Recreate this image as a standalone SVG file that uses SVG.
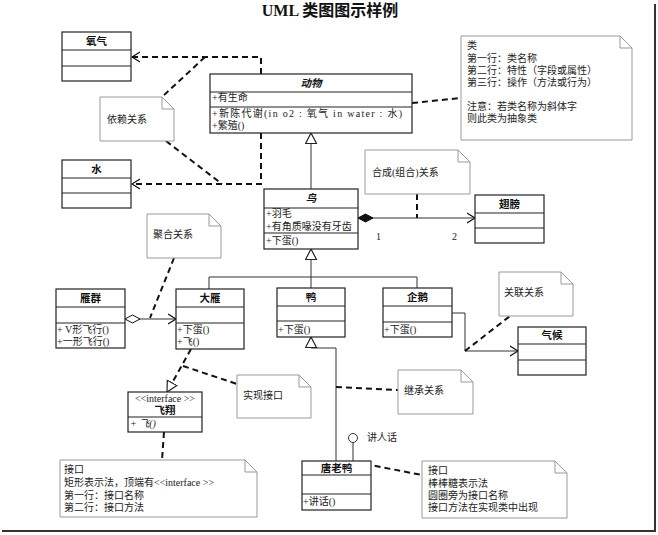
<svg xmlns="http://www.w3.org/2000/svg" width="658" height="535" viewBox="0 0 658 535">
<style>
.box{fill:#fff;stroke:#222;stroke-width:1.2}
.div{stroke:#222;stroke-width:1.2}
.note{fill:#fff;stroke:#999;stroke-width:1}
.fold{fill:none;stroke:#999;stroke-width:1}
.t{font-family:"Liberation Serif","Noto Sans CJK SC",serif;font-size:10px;fill:#222}
.nm{font-family:"Liberation Serif","Noto Sans CJK SC",serif;font-size:10.5px;font-weight:bold;fill:#111;text-anchor:middle}
.it{font-style:italic}
.dash{fill:none;stroke:#111;stroke-width:2;stroke-dasharray:6,4}
.line{fill:none;stroke:#333;stroke-width:1}
</style>
<defs>
<marker id="open" markerWidth="10" markerHeight="12" refX="8" refY="5" orient="auto" markerUnits="userSpaceOnUse" viewBox="0 0 10 10">
<path d="M0,0 L8,5 L0,10" fill="none" stroke="#111" stroke-width="1.2"/>
</marker>
<marker id="tri" markerWidth="13" markerHeight="14" refX="11" refY="6" orient="auto" markerUnits="userSpaceOnUse" viewBox="0 0 13 13">
<path d="M0.5,0.5 L11,6 L0.5,11.5 Z" fill="#fff" stroke="#222" stroke-width="1.2"/>
</marker>
<marker id="dfill" markerWidth="17" markerHeight="11" refX="0.5" refY="5" orient="auto" markerUnits="userSpaceOnUse" viewBox="0 0 17 11">
<path d="M0.5,5 L8,1 L15.5,5 L8,9 Z" fill="#111" stroke="#111" stroke-width="1"/>
</marker>
<marker id="dhollow" markerWidth="17" markerHeight="11" refX="0.5" refY="5" orient="auto" markerUnits="userSpaceOnUse" viewBox="0 0 17 11">
<path d="M0.5,5 L8,1 L15.5,5 L8,9 Z" fill="#fff" stroke="#111" stroke-width="1"/>
</marker>
</defs>
<rect x="0" y="0" width="658" height="535" fill="#fff"/>
<line x1="655" y1="4" x2="655" y2="532" stroke="#333" stroke-width="2"/>
<line x1="2" y1="531" x2="656" y2="531" stroke="#333" stroke-width="2"/>
<text x="330" y="16" text-anchor="middle" font-family="'Liberation Serif','Noto Sans CJK SC',serif" font-size="16" font-weight="bold" fill="#111">UML 类图图示样例</text>

<g id="connectors">
<path class="dash" d="M261,74 V57 H132" marker-end="url(#open)"/>
<path class="dash" d="M205,57 L162,97"/>
<path class="dash" d="M261,133 V184 H132" marker-end="url(#open)"/>
<path class="dash" d="M166,141 L222,184"/>
<path class="dash" d="M412,103 L461,98"/>
<path class="line" d="M311,189 V133" marker-end="url(#tri)"/>
<path class="line" d="M358,218 H475" marker-start="url(#dfill)" marker-end="url(#open)"/>
<path class="dash" d="M417,194 V218"/>
<path class="line" d="M311,277 V249" marker-end="url(#tri)"/>
<path class="line" d="M209,289 V277 H417 V288 M311,277 V288"/>
<path class="line" d="M125,319 H176" marker-start="url(#dhollow)" marker-end="url(#open)"/>
<path class="dash" d="M174,258 L150,318"/>
<path class="line" d="M452,313 H465 V351 H518" marker-end="url(#open)"/>
<path class="dash" d="M465,351 L510,316"/>
<path class="line" d="M336,461 V348 H311" />
<path class="line" d="M311,348 V337" marker-end="url(#tri)"/>
<path class="dash" d="M336,387 L398,390"/>
<path class="dash" d="M191,349 L167,392" marker-end="url(#tri)"/>
<path class="dash" d="M183,366 L237,384"/>
<path class="dash" d="M164,432 L162,460"/>
<path class="line" d="M353,443 V462"/>
<circle cx="353" cy="438" r="4.5" fill="#fff" stroke="#333" stroke-width="1"/>
<path class="dash" d="M355,462 L422,475"/>
</g>

<g id="node-oxygen">
<rect class="box" x="62" y="32" width="69" height="49"/>
<line class="div" x1="62" y1="50" x2="131" y2="50"/>
<line class="div" x1="62" y1="66" x2="131" y2="66"/>
<text class="nm" x="96.5" y="45">氧气</text>
</g>

<g id="node-water">
<rect class="box" x="62" y="160" width="69" height="48"/>
<line class="div" x1="62" y1="178" x2="131" y2="178"/>
<line class="div" x1="62" y1="193" x2="131" y2="193"/>
<text class="nm" x="96.5" y="173">水</text>
</g>

<g id="node-animal">
<rect class="box" x="210" y="74" width="202" height="59"/>
<line class="div" x1="210" y1="92" x2="412" y2="92"/>
<line class="div" x1="210" y1="107" x2="412" y2="107"/>
<text class="nm it" x="311" y="87">动物</text>
<text class="t" x="212" y="101">+有生命</text>
<text class="t" x="212" y="117" textLength="190" lengthAdjust="spacing">+新陈代谢(in o2 : 氧气  in water : 水)</text>
<text class="t" x="212" y="129">+繁殖()</text>
</g>

<g id="note-dependency">
<path class="note" d="M100,97 H162 L174,109 V141 H100 Z"/>
<path class="fold" d="M162,97 V109 H174"/>
<text class="t" x="107" y="123">依赖关系</text>
</g>

<g id="note-class">
<path class="note" d="M461,36 H620 L632,48 V140 H461 Z"/>
<path class="fold" d="M620,36 V48 H632"/>
<text class="t" x="467" y="49">类</text>
<text class="t" x="467" y="62">第一行：类名称</text>
<text class="t" x="467" y="74">第二行：特性（字段或属性）</text>
<text class="t" x="467" y="86">第三行：操作（方法或行为）</text>
<text class="t" x="467" y="110">注意：若类名称为斜体字</text>
<text class="t" x="467" y="122">则此类为抽象类</text>
</g>

<g id="node-bird">
<rect class="box" x="264" y="189" width="94" height="60"/>
<line class="div" x1="264" y1="208" x2="358" y2="208"/>
<line class="div" x1="264" y1="233" x2="358" y2="233"/>
<text class="nm it" x="311" y="202">鸟</text>
<text class="t" x="266" y="217">+羽毛</text>
<text class="t" x="266" y="230">+有角质喙没有牙齿</text>
<text class="t" x="266" y="244">+下蛋()</text>
</g>

<g id="note-composition">
<path class="note" d="M365,150 H458 L470,162 V194 H365 Z"/>
<path class="fold" d="M458,150 V162 H470"/>
<text class="t" x="372" y="176">合成(组合)关系</text>
</g>
<text class="t" x="376" y="240">1</text>
<text class="t" x="452" y="240">2</text>

<g id="node-wing">
<rect class="box" x="475" y="195" width="69" height="48"/>
<line class="div" x1="475" y1="213" x2="544" y2="213"/>
<line class="div" x1="475" y1="228" x2="544" y2="228"/>
<text class="nm" x="509.5" y="208">翅膀</text>
</g>

<g id="note-aggregation">
<path class="note" d="M147,214 H209 L221,226 V258 H147 Z"/>
<path class="fold" d="M209,214 V226 H221"/>
<text class="t" x="153" y="238">聚合关系</text>
</g>

<g id="node-flock">
<rect class="box" x="56" y="289" width="69" height="59"/>
<line class="div" x1="56" y1="307" x2="125" y2="307"/>
<line class="div" x1="56" y1="323" x2="125" y2="323"/>
<text class="nm" x="90.5" y="302">雁群</text>
<text class="t" x="57" y="333">+ V形飞行()</text>
<text class="t" x="57" y="345">+一形飞行()</text>
</g>

<g id="node-goose">
<rect class="box" x="176" y="289" width="68" height="60"/>
<line class="div" x1="176" y1="307" x2="244" y2="307"/>
<line class="div" x1="176" y1="323" x2="244" y2="323"/>
<text class="nm" x="210" y="302">大雁</text>
<text class="t" x="177" y="333">+下蛋()</text>
<text class="t" x="177" y="345">+飞()</text>
</g>

<g id="node-duck">
<rect class="box" x="277" y="288" width="68" height="49"/>
<line class="div" x1="277" y1="306" x2="345" y2="306"/>
<line class="div" x1="277" y1="321" x2="345" y2="321"/>
<text class="nm" x="311" y="301">鸭</text>
<text class="t" x="278" y="333">+下蛋()</text>
</g>

<g id="node-penguin">
<rect class="box" x="383" y="288" width="69" height="49"/>
<line class="div" x1="383" y1="306" x2="452" y2="306"/>
<line class="div" x1="383" y1="322" x2="452" y2="322"/>
<text class="nm" x="417.5" y="301">企鹅</text>
<text class="t" x="384" y="333">+下蛋()</text>
</g>

<g id="note-association">
<path class="note" d="M499,272 H561 L573,284 V316 H499 Z"/>
<path class="fold" d="M561,272 V284 H573"/>
<text class="t" x="504" y="296">关联关系</text>
</g>

<g id="node-climate">
<rect class="box" x="518" y="327" width="68" height="48"/>
<line class="div" x1="518" y1="344" x2="586" y2="344"/>
<line class="div" x1="518" y1="360" x2="586" y2="360"/>
<text class="nm" x="552" y="339">气候</text>
</g>

<g id="node-fly">
<rect class="box" x="128" y="392" width="74" height="40"/>
<line class="div" x1="128" y1="417" x2="202" y2="417"/>
<text class="t" x="165" y="402" text-anchor="middle">&lt;&lt;interface &gt;&gt;</text>
<text class="nm" x="165" y="414">飞翔</text>
<text class="t it" x="130" y="427">+ 飞()</text>
</g>

<g id="note-realization">
<path class="note" d="M237,375 H299 L311,387 V418 H237 Z"/>
<path class="fold" d="M299,375 V387 H311"/>
<text class="t" x="243" y="399">实现接口</text>
</g>

<g id="note-inheritance">
<path class="note" d="M398,370 H461 L473,382 V414 H398 Z"/>
<path class="fold" d="M461,370 V382 H473"/>
<text class="t" x="404" y="394">继承关系</text>
</g>

<text class="t" x="367" y="441">讲人话</text>

<g id="node-donald">
<rect class="box" x="302" y="461" width="69" height="49"/>
<line class="div" x1="302" y1="475" x2="371" y2="475"/>
<line class="div" x1="302" y1="494" x2="371" y2="494"/>
<text class="nm" x="336.5" y="472">唐老鸭</text>
<text class="t" x="303" y="505">+讲话()</text>
</g>

<g id="note-interface">
<path class="note" d="M60,460 H245 L257,472 V517 H60 Z"/>
<path class="fold" d="M245,460 V472 H257"/>
<text class="t" x="64" y="473">接口</text>
<text class="t" x="64" y="486">矩形表示法，顶端有&lt;&lt;interface &gt;&gt;</text>
<text class="t" x="64" y="499">第一行：接口名称</text>
<text class="t" x="64" y="511">第二行：接口方法</text>
</g>

<g id="note-lollipop">
<path class="note" d="M422,461 H555 L567,473 V518 H422 Z"/>
<path class="fold" d="M555,461 V473 H567"/>
<text class="t" x="428" y="474">接口</text>
<text class="t" x="428" y="487">棒棒糖表示法</text>
<text class="t" x="428" y="499">圆圈旁为接口名称</text>
<text class="t" x="428" y="511">接口方法在实现类中出现</text>
</g>
</svg>
